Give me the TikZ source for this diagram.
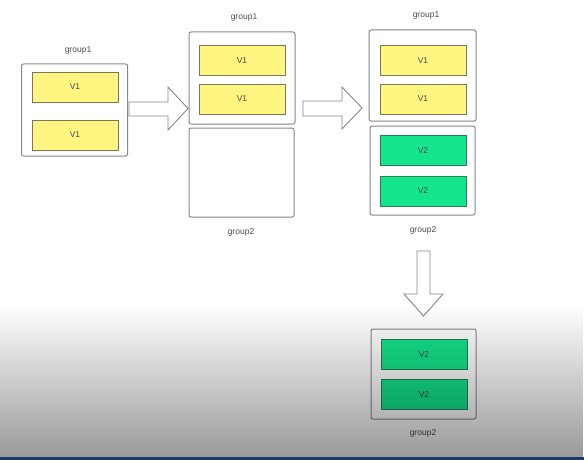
\documentclass[tikz,border=0pt]{standalone}
\usepackage{fontspec}
\setmainfont{Liberation Sans}
\usetikzlibrary{fadings}
\definecolor{vyel}{RGB}{255,245,128}
\definecolor{vyelb}{RGB}{120,120,90}
\definecolor{vgrn}{RGB}{20,228,140}
\definecolor{vgrnb}{RGB}{40,125,88}
\definecolor{grpb}{RGB}{135,135,135}
\definecolor{txt}{RGB}{75,75,75}
\definecolor{barblue}{RGB}{28,58,105}
\begin{document}
\begin{tikzpicture}[x=1pt,y=-1pt,
  grp/.style={draw=grpb, fill=white, rounded corners=2pt, line width=1pt, inner sep=0pt},
  vbox/.style={draw=vyelb, fill=vyel, line width=0.8pt, minimum width=86pt, minimum height=30pt, inner sep=0pt, font=\fontsize{8.5}{9}\selectfont, text=txt},
  gbox/.style={vbox, draw=vgrnb, fill=vgrn},
  lab/.style={font=\fontsize{8.5}{9}\selectfont, text=txt, inner sep=0pt},
  blockarrow/.style={draw=grpb, fill=white, line width=0.9pt, line join=miter}]
\useasboundingbox (0,0) rectangle (584,460);
\fill[white] (0,0) rectangle (584,460);
% column A
\node[grp, minimum width=106pt, minimum height=92pt] (ga) at (74.5,110) {};
\node[lab] (la) at (78,50) {group1};
\node[vbox] (a1) at (75,87) {V1};
\node[vbox] (a2) at (75,135) {V1};
% arrow 1
\draw[blockarrow] (129,102) -- (168,102) -- (168,87) -- (188,108.5) -- (168,130) -- (168,116) -- (129,116) -- cycle;
% column B
\node[grp, minimum width=106pt, minimum height=92pt] (gb1) at (242,78) {};
\node[lab] (lb1) at (244,17) {group1};
\node[vbox] (b1) at (242,60.5) {V1};
\node[vbox] (b2) at (242,99) {V1};
\node[grp, minimum width=105pt, minimum height=89pt] (gb2) at (241.5,172.5) {};
\node[lab] (lb2) at (241,232) {group2};
% arrow 2
\draw[blockarrow] (303,101) -- (342,101) -- (342,87) -- (362,108) -- (342,129) -- (342,116) -- (303,116) -- cycle;
% column C
\node[grp, minimum width=107pt, minimum height=91pt] (gc1) at (422.5,75.5) {};
\node[lab] (lc1) at (426,15) {group1};
\node[vbox] (c1) at (423,60.5) {V1};
\node[vbox] (c2) at (423,99) {V1};
\node[grp, minimum width=105pt, minimum height=89pt] (gc2) at (422.5,170.5) {};
\node[gbox] (c3) at (423,150.5) {V2};
\node[gbox] (c4) at (423,191) {V2};
\node[lab] (lc2) at (423,230) {group2};
% down arrow
\draw[blockarrow] (417,251) -- (430,251) -- (430,294) -- (443,294) -- (423.5,316) -- (404,294) -- (417,294) -- cycle;
% bottom box
\node[grp, minimum width=105pt, minimum height=90pt] (gd) at (423.5,374) {};
\node[gbox] (d1) at (424,354.5) {V2};
\node[gbox] (d2) at (424,394.5) {V2};
\node[lab] (ld) at (423,433) {group2};
% screen overlay
\fill[black, opacity=0.4, path fading=north] (0,305) rectangle (584,457);
\fill[barblue] (0,456.5) rectangle (584,460);
\end{tikzpicture}
\end{document}
